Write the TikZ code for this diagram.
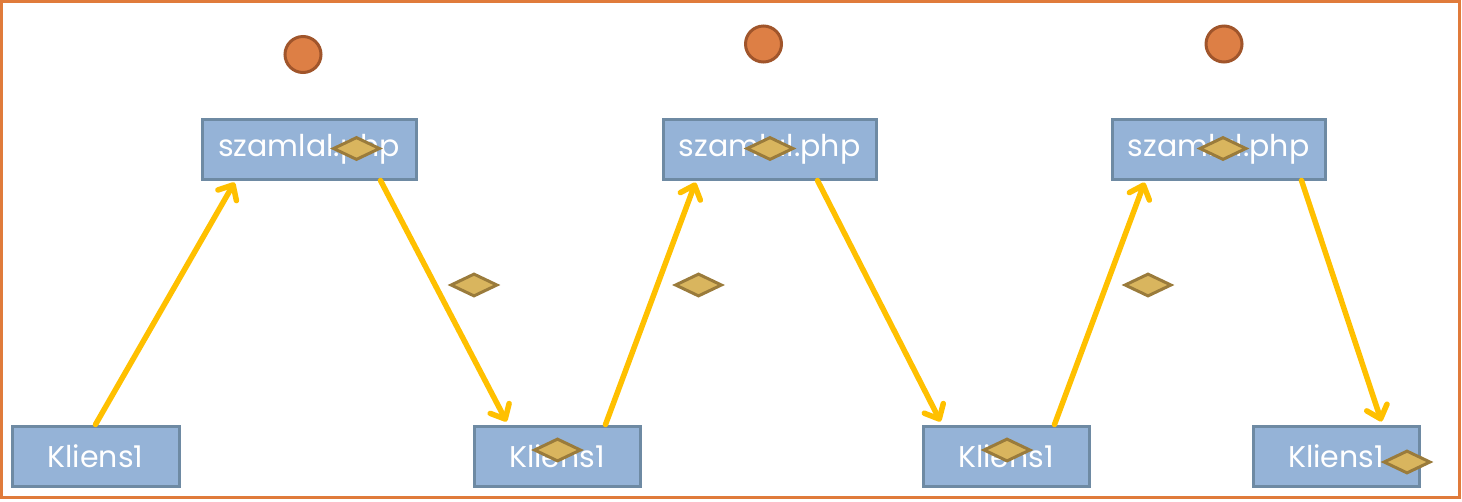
\documentclass[tikz,border=0pt]{standalone}
\usepackage{fontspec}
\setmainfont{Poppins}
\usetikzlibrary{arrows.meta,shapes.geometric}
\definecolor{boxfill}{HTML}{95B3D7}
\definecolor{boxline}{HTML}{6E8AA3}
\definecolor{circfill}{HTML}{DD7F45}
\definecolor{circline}{HTML}{A0552B}
\definecolor{diafill}{HTML}{D9B55E}
\definecolor{dialine}{HTML}{9A7B3B}
\definecolor{arrowc}{HTML}{FFC000}
\definecolor{frame}{HTML}{E07B3B}
\tikzset{
  pbox/.style={draw=boxline, fill=boxfill, line width=3pt*0.75, rectangle, inner sep=0pt,
    text=white, font=\fontsize{22.5}{26}\selectfont},
  ball/.style={draw=circline, fill=circfill, line width=3pt*0.75, circle, inner sep=0pt, minimum size=36*0.75pt},
  dia/.style={draw=dialine, fill=diafill, line width=3pt*0.75, diamond, inner sep=0pt, minimum width=47*0.75pt, minimum height=23*0.75pt},
  flow/.style={draw=arrowc, line width=5.5pt*0.75, line cap=round,
    -{Straight Barb[length=9pt, width=16pt, line width=5.5pt*0.75, line cap=round, line join=round]}}
}
\begin{document}
\begin{tikzpicture}[x=0.75pt,y=-0.75pt]
\useasboundingbox (0,0) rectangle (1462,501);
\draw[frame, line width=3pt*0.75] (1.5,1.5) rectangle (1459,497.5);
% server boxes
\node[pbox, minimum width=214*0.75pt, minimum height=60*0.75pt] (s1) at (309,149) {szamlal.php};
\node[pbox, minimum width=213*0.75pt, minimum height=60*0.75pt] (s2) at (769.5,149) {szamlal.php};
\node[pbox, minimum width=213*0.75pt, minimum height=60*0.75pt] (s3) at (1218.5,149) {szamlal.php};
% client boxes
\node[pbox, minimum width=167*0.75pt, minimum height=60*0.75pt] (k1) at (95.5,456) {Kliens1};
\node[pbox, minimum width=166*0.75pt, minimum height=60*0.75pt] (k2) at (557,456) {Kliens1};
\node[pbox, minimum width=166*0.75pt, minimum height=60*0.75pt] (k3) at (1006,456) {Kliens1};
\node[pbox, minimum width=166*0.75pt, minimum height=60*0.75pt] (k4) at (1336,456) {Kliens1};
% circles
\node[ball] (c1) at (303,54.5) {};
\node[ball] (c2) at (763.5,44) {};
\node[ball] (c3) at (1224,44) {};
% arrows
\draw[flow] (k1.north) -- ([xshift=34*0.75pt,yshift=-2*0.75pt]s1.south west);
\draw[flow] ([xshift=-37*0.75pt]s1.south east) -- ([xshift=34*0.75pt,yshift=3*0.75pt]k2.north west);
\draw[flow] ([xshift=-36*0.75pt]k2.north east) -- ([xshift=34*0.75pt,yshift=-2*0.75pt]s2.south west);
\draw[flow] ([xshift=-60*0.75pt]s2.south east) -- ([xshift=19*0.75pt,yshift=3*0.75pt]k3.north west);
\draw[flow] ([xshift=-36*0.75pt]k3.north east) -- ([xshift=34*0.75pt,yshift=-2*0.75pt]s3.south west);
\draw[flow] ([xshift=-25*0.75pt]s3.south east) -- ([xshift=130*0.75pt,yshift=3*0.75pt]k4.north west);
% diamonds
\node[dia] (d1) at (356.5,148.5) {};
\node[dia] (d2) at (770,148.5) {};
\node[dia] (d3) at (1223,148.5) {};
\node[dia] (d4) at (474,285) {};
\node[dia] (d5) at (698.5,285) {};
\node[dia] (d6) at (1148,285) {};
\node[dia] (d7) at (557.5,450) {};
\node[dia] (d8) at (1007,450) {};
\node[dia] (d9) at (1407,462) {};
\end{tikzpicture}
\end{document}
